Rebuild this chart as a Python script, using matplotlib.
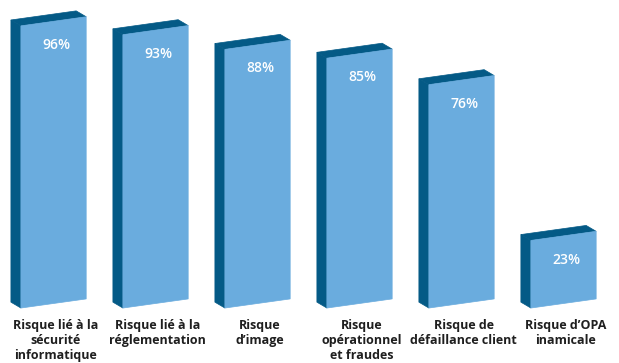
import matplotlib.pyplot as plt
from matplotlib.patches import Polygon

# Risk categories and share of respondents (%)
categories = [
    "Risque lié à la\nsécurité\ninformatique",
    "Risque lié à la\nréglementation",
    "Risque\nd’image",
    "Risque\nopérationnel\net fraudes",
    "Risque de\ndéfaillance client",
    "Risque d’OPA\ninamicale",
]
values = [96, 93, 88, 85, 76, 23]
value_labels = ["96%", "93%", "88%", "85%", "76%", "23%"]

FRONT = "#6aacde"
DARK = "#045a86"

width = 0.64      # width of the front face (category units)
skew = 3.1        # rise of the front face across its width (% units)
depth_x = 0.098   # depth of the side face to the left
depth_y = 2.0     # rise of the side face

fig = plt.figure(figsize=(6.19, 3.63), dpi=100)
ax = fig.add_axes([0, 0, 1, 1])
ax.set_xlim(-0.525, 5.544)
ax.set_ylim(-18.7, 104.8)
ax.axis("off")

for i, v in enumerate(values):
    L = i - width / 2
    R = i + width / 2
    # left side face
    side = [(L - depth_x, depth_y), (L, 0), (L, v), (L - depth_x, v + depth_y)]
    # top face
    top = [(L, v), (R, v + skew), (R - depth_x, v + skew + depth_y),
           (L - depth_x, v + depth_y)]
    # front face
    front = [(L, 0), (R, skew), (R, v + skew), (L, v)]
    ax.add_patch(Polygon(side, closed=True, facecolor=DARK, edgecolor=DARK, lw=0.5))
    ax.add_patch(Polygon(top, closed=True, facecolor=DARK, edgecolor=DARK, lw=0.5))
    ax.add_patch(Polygon(front, closed=True, facecolor=FRONT, edgecolor=FRONT, lw=0.5))

    ax.text(i + 0.03, v - 6.5, value_labels[i], color="white", fontsize=10,
            fontweight="semibold", family="Open Sans", ha="center", va="center")
    ax.text(i + 0.02, -3.9, categories[i], color="#1f1f1f", fontsize=9,
            fontweight="bold", family="Open Sans", ha="center", va="top",
            linespacing=1.18)

fig.savefig("out.png", dpi=100, facecolor="white")
